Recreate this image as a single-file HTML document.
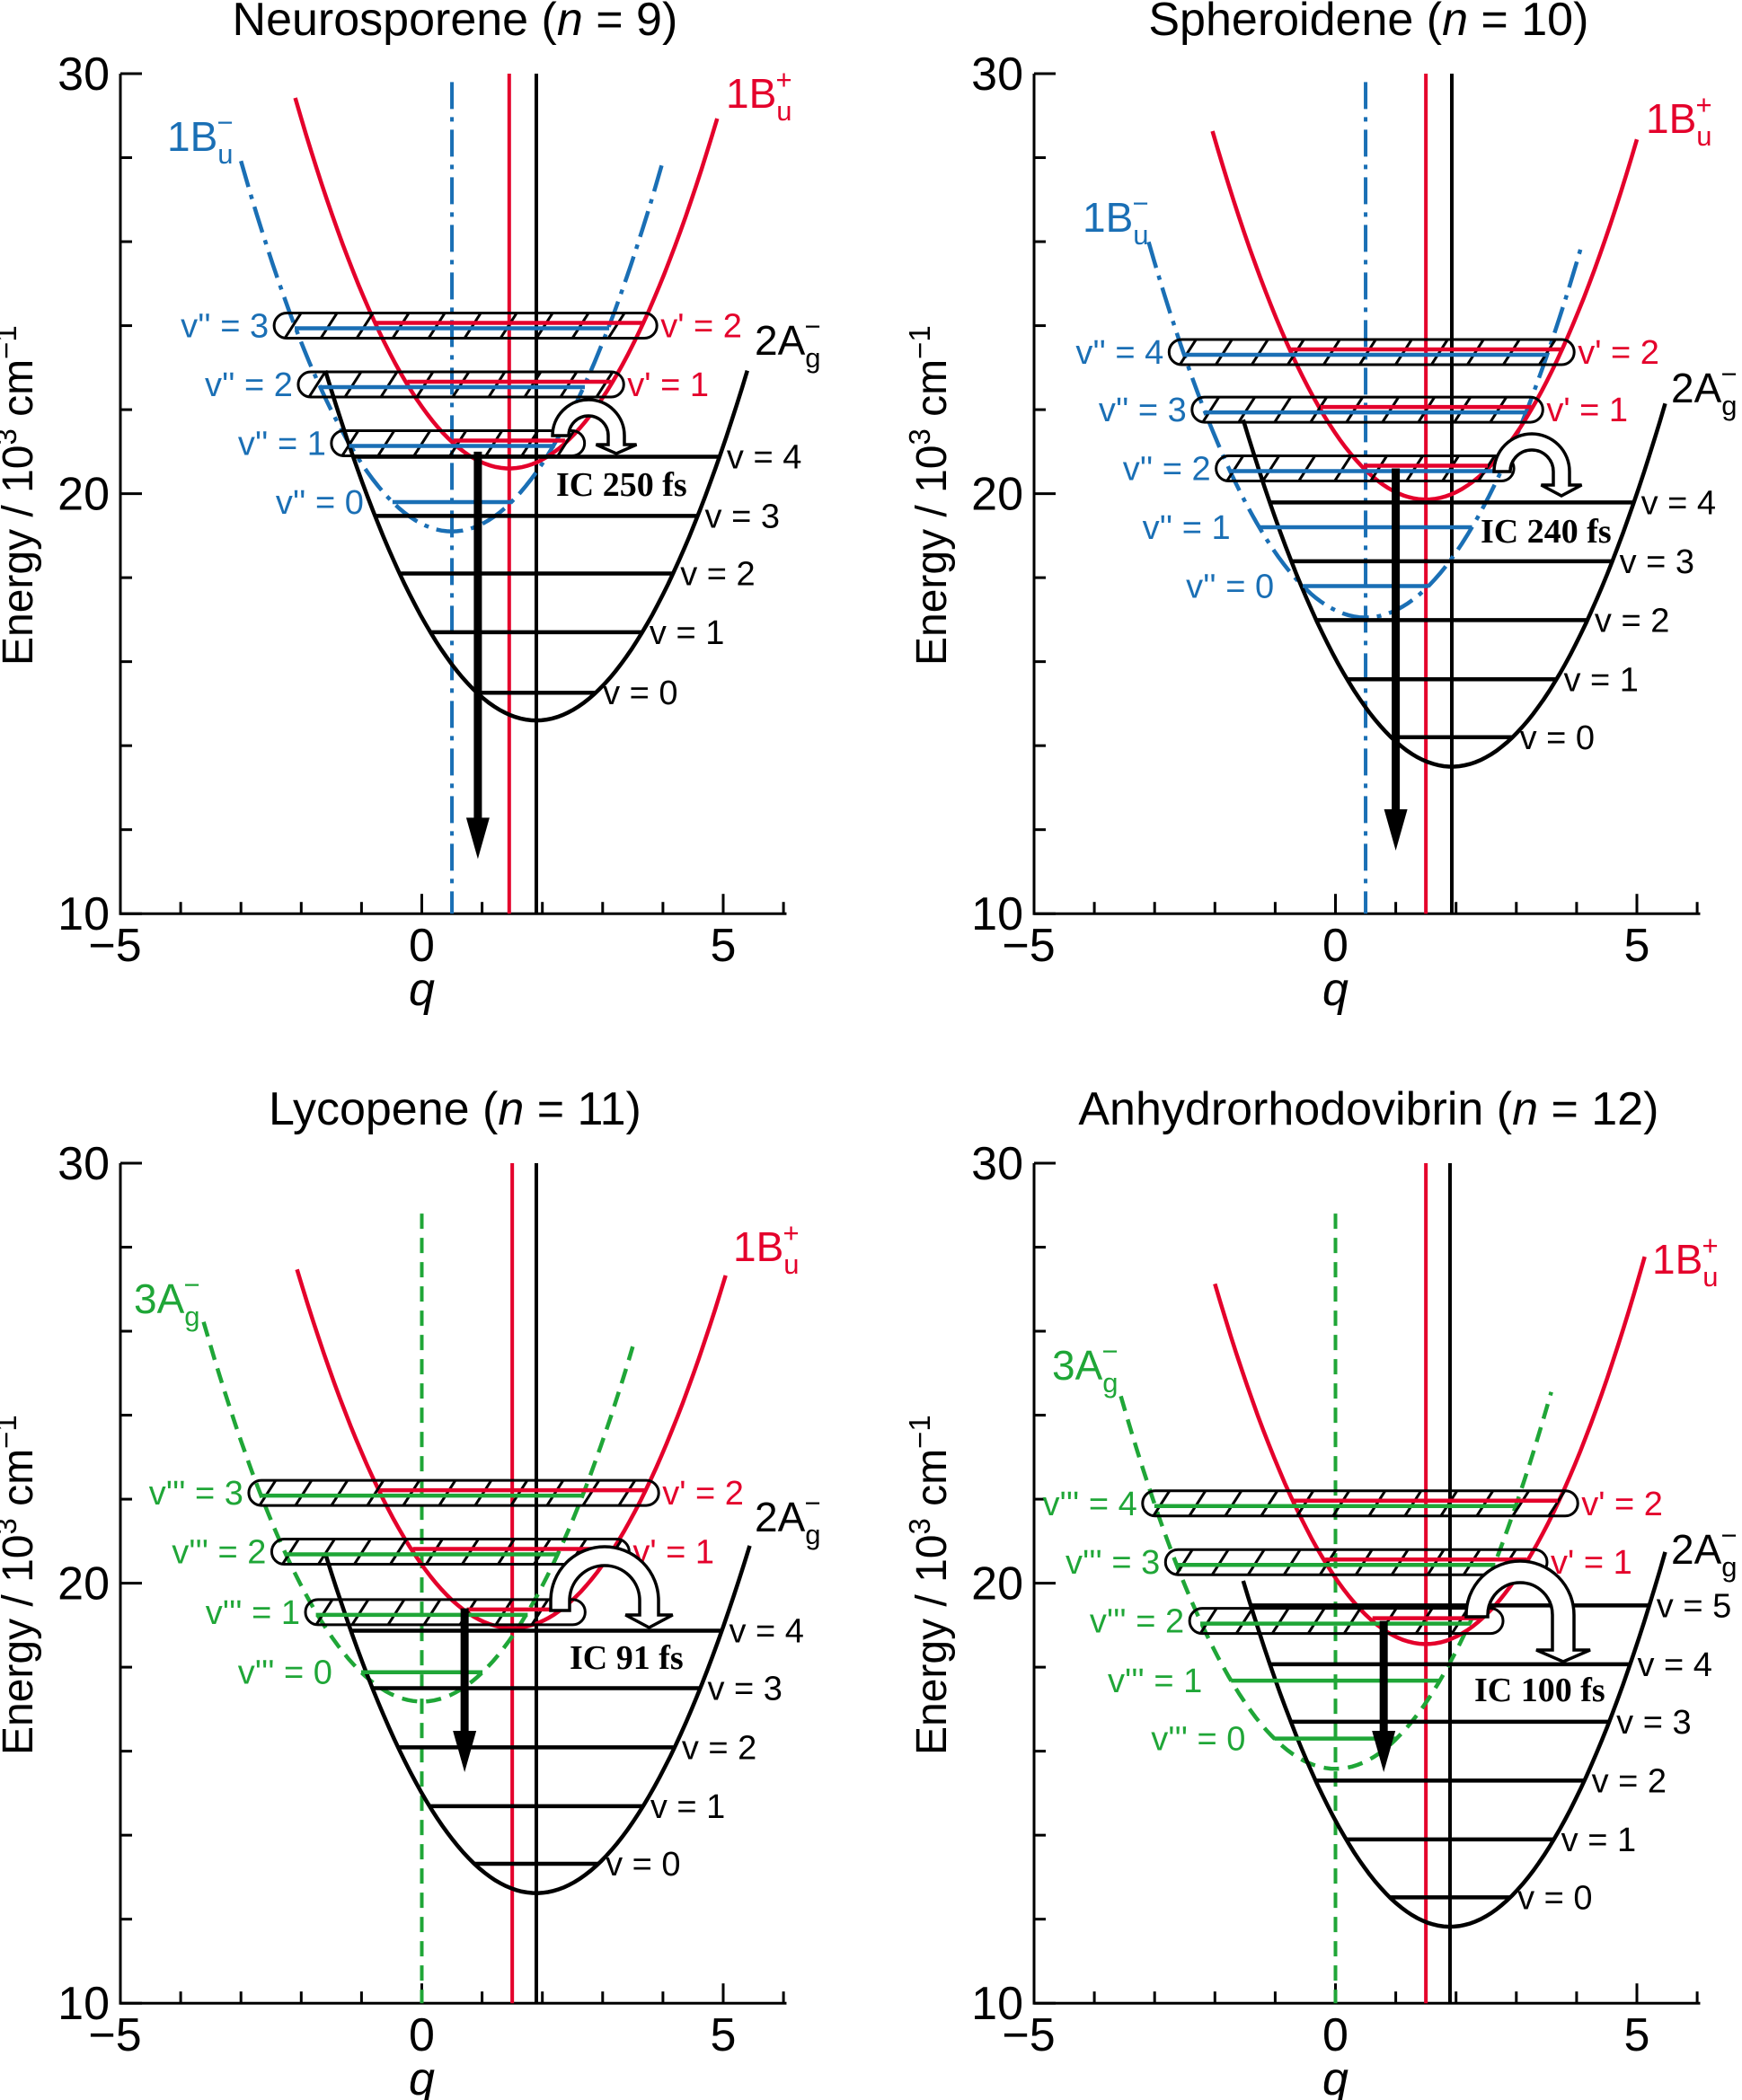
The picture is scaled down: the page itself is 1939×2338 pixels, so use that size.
<!DOCTYPE html>
<html><head><meta charset="utf-8"><style>
html,body{margin:0;padding:0;background:#fff;}
svg{display:block;font-family:"Liberation Sans",sans-serif;}
</style></head><body>
<svg id="chart" width="1939" height="2338" viewBox="0 0 1939 2338" xmlns="http://www.w3.org/2000/svg"></svg>
<script>
// ---- data (energies in 10^3 cm^-1, q dimensionless) ----
// curve arrays: [qMin, eMin, curvature, qStart, qEnd]
const neuroGround = [1.9, 14.6, 0.68, -1.6, 5.4];
const neuroGroundLevels = [15.26, 16.70, 18.10, 19.47, 20.88];
const neuroBu = [1.45, 20.6, 0.70, -2.1, 4.9];
const neuroLower = [0.5, 19.1, 0.72, -3.0, 4.0];
const neuroLowerLevels = [19.8, 21.2, 22.6, 24.0];
const neuroBands = [[-1.5, 2.7], [-2.05, 3.35], [-2.45, 3.9]];
const neuroArrow = [0.93, 21.0, 11.3];

const spherGround = [1.93, 13.5, 0.69, -1.53, 5.47];
const spherGroundLevels = [14.2, 15.58, 16.99, 18.39, 19.79];
const spherBu = [1.5, 19.86, 0.70, -2.04, 5.0];
const spherLower = [0.5, 17.05, 0.69, -3.1, 4.07];
const spherLowerLevels = [17.8, 19.2, 20.6, 22.0, 23.37];
const spherBands = [[-1.98, 2.96], [-2.38, 3.44], [-2.76, 3.96]];
const spherArrow = [1.0, 20.6, 11.5];

const lycoGround = [1.9, 12.62, 0.66, -1.6, 5.44];
const lycoGroundLevels = [13.32, 14.69, 16.09, 17.5, 18.87];
const lycoBu = [1.5, 18.93, 0.67, -2.07, 5.04];
const lycoLower = [0, 17.18, 0.69, -3.62, 3.5];
const lycoLowerLevels = [17.88, 19.31, 20.75, 22.15];
const lycoBands = [[-1.93, 2.71], [-2.49, 3.44], [-2.87, 3.93]];
const lycoArrow = [0.71, 19.4, 15.5];

const anhyGround = [1.9, 11.82, 0.70, -1.53, 5.47];
const anhyGroundLevels = [12.52, 13.9, 15.3, 16.7, 18.07, 19.47];
const anhyBu = [1.5, 18.55, 0.70, -2.0, 5.13];
const anhyLower = [0, 15.58, 0.70, -3.56, 3.58];
const anhyLowerLevels = [16.3, 17.68, 19.1, 20.5, 21.9];
const anhyBands = [[-2.42, 2.78], [-2.82, 3.51], [-3.2, 4.02]];
const anhyArrow = [0.8, 19.1, 15.5];

const yTickLabels = ["10", "20", "30"];
const xTickLabels = ["\u22125", "0", "5"];

const NS = "http://www.w3.org/2000/svg";
const svg = document.getElementById("chart");
const BLUE = "#1a6fb5", RED = "#e4002b", GREEN = "#1fa637";

function el(tag, attrs, parent) {
  const e = document.createElementNS(NS, tag);
  for (const k in attrs) e.setAttribute(k, attrs[k]);
  (parent || svg).appendChild(e);
  return e;
}

const panels = [
  {ox:134, oy:82, title:"Neurosporene", n:"9", ground:neuroGround, gl:neuroGroundLevels, bu:neuroBu, low:neuroLower, ll:neuroLowerLevels, bands:neuroBands, bandStart:1, arrow:neuroArrow, lowColor:BLUE, lowDash:"30 9 5 9", lowPrime:"v''", vTop:29.8, ic:[615,40,18,485,485,495,505], icText:[619,552,"IC  250 fs"], lab:[[186,168,"1B","u","\u2212"],[808,120,"1B","u","+"],[840,395,"2A","g","\u2212"]]},
  {ox:1151, oy:82, title:"Spheroidene", n:"10", ground:spherGround, gl:spherGroundLevels, bu:spherBu, low:spherLower, ll:spherLowerLevels, bands:spherBands, bandStart:2, arrow:spherArrow, lowColor:BLUE, lowDash:"30 9 5 9", lowPrime:"v''", vTop:29.8, ic:[1663,42,18,525,525,540,552], icText:[1648,604,"IC  240 fs"], lab:[[1205,258,"1B","u","\u2212"],[1832,148,"1B","u","+"],[1860,448,"2A","g","\u2212"]]},
  {ox:134, oy:1295, title:"Lycopene", n:"11", ground:lycoGround, gl:lycoGroundLevels, bu:lycoBu, low:lycoLower, ll:lycoLowerLevels, bands:lycoBands, bandStart:1, arrow:lycoArrow, lowColor:GREEN, lowDash:"17 10", lowPrime:"v'''", vTop:28.8, ic:[613,60,21,1782,1793,1798,1812], icText:[634,1858,"IC  91 fs"], lab:[[149,1462,"3A","g","\u2212"],[816,1404,"1B","u","+"],[840,1705,"2A","g","\u2212"]]},
  {ox:1151, oy:1295, title:"Anhydrorhodovibrin", n:"12", ground:anhyGround, gl:anhyGroundLevels, bu:anhyBu, low:anhyLower, ll:anhyLowerLevels, bands:anhyBands, bandStart:2, arrow:anhyArrow, lowColor:GREEN, lowDash:"17 10", lowPrime:"v'''", vTop:28.8, ic:[1632,60,24,1798,1800,1837,1850], icText:[1641,1894,"IC  100 fs"], lab:[[1171,1536,"3A","g","\u2212"],[1839,1418,"1B","u","+"],[1860,1741,"2A","g","\u2212"]]}
];

const QU = 67.1, EU = 46.76;

function drawPanel(p, idx) {
  const X = q => p.ox + (q + 5) * QU;
  const Y = e => p.oy + (30 - e) * EU;
  const g = el("g", {});
  
  

  // title
  const t = el("text", {x: X(0.55), y: p.oy - 43, "text-anchor": "middle", "font-size": 52}, g);
  
  
  t.innerHTML = p.title + ' (<tspan font-style="italic">n</tspan> = ' + p.n + ')';

  // axes
  const ax = el("path", {d: `M${X(-5)},${Y(30)} L${X(-5)},${Y(10)} L${X(6.05)},${Y(10)}`, fill: "none", stroke: "#000", "stroke-width": 3}, g);
  
  
  for (let e = 10; e <= 30; e += 2) {
    const len = (e % 10 === 0) ? 24 : 13;
    const tk = el("line", {x1: X(-5), x2: X(-5) + len, y1: Y(e), y2: Y(e), stroke: "#000", "stroke-width": 3}, g);
    
    
  }
  for (let q = -4; q <= 6; q++) {
    const len = (q % 5 === 0) ? 22 : 13;
    const tk = el("line", {x1: X(q), x2: X(q), y1: Y(10), y2: Y(10) - len, stroke: "#000", "stroke-width": 3}, g);
    
    
  }
  yTickLabels.forEach((s, i) => {
    const tl = el("text", {x: X(-5) - 12, y: Y(10 + i * 10) + 18, "text-anchor": "end", "font-size": 52}, g);
    
    
    tl.textContent = s;
  });
  xTickLabels.forEach((s, i) => {
    const tl = el("text", {x: X(-5 + i * 5) - (i === 0 ? 6 : 0), y: Y(10) + 53, "text-anchor": "middle", "font-size": 52}, g);
    
    
    tl.textContent = s;
  });
  const xt = el("text", {x: X(0), y: Y(10) + 102, "text-anchor": "middle", "font-size": 52, "font-style": "italic"}, g);
  
  
  xt.textContent = "q";
  const yc = (Y(30) + Y(10)) / 2 + 2, yx = p.ox - 98;
  const yt = el("text", {x: yx, y: yc, "text-anchor": "middle", "font-size": 48, transform: `rotate(-90 ${yx} ${yc})`}, g);
  
  
  yt.innerHTML = 'Energy / 10<tspan dy="-18" font-size="33">3</tspan><tspan dy="18"> cm</tspan><tspan dy="-18" font-size="33">\u22121</tspan>';

  // vertical lines
  const vl = el("line", {x1: X(p.low[0]), x2: X(p.low[0]), y1: Y(p.vTop), y2: Y(10), stroke: p.lowColor, "stroke-width": 4, "stroke-dasharray": p.lowDash}, g);
  
  
  const vr = el("line", {x1: X(p.bu[0]), x2: X(p.bu[0]), y1: Y(30), y2: Y(10), stroke: RED, "stroke-width": 4}, g);
  
  
  const vb = el("line", {x1: X(p.ground[0]), x2: X(p.ground[0]), y1: Y(30), y2: Y(10), stroke: "#000", "stroke-width": 4}, g);
  
  

  // parabolas
  function parab(c, color, dash, name) {
    let d = "";
    for (let i = 0; i <= 80; i++) {
      const q = c[3] + (c[4] - c[3]) * i / 80;
      const e = c[1] + c[2] * (q - c[0]) * (q - c[0]);
      d += (i ? "L" : "M") + X(q).toFixed(1) + "," + Y(e).toFixed(1);
    }
    const pa = el("path", {d: d, fill: "none", stroke: color, "stroke-width": 4.5, "stroke-dasharray": dash || "none"}, g);
    
    
  }
  parab(p.low, p.lowColor, p.lowDash, 'lower-state-curve');
  parab(p.bu, RED, null, 'bu-plus-curve');
  parab(p.ground, "#000", null, 'ground-state-curve');

  function half(c, e) { return Math.sqrt(Math.max(0, (e - c[1]) / c[2])); }

  // ground levels
  p.gl.forEach((e, i) => {
    const h = half(p.ground, e);
    const ln = el("line", {x1: X(p.ground[0] - h), x2: X(p.ground[0] + h), y1: Y(e), y2: Y(e), stroke: "#000", "stroke-width": 4.5}, g);
    
    
    const lt = el("text", {x: X(p.ground[0] + h) + 8, y: Y(e) + 13, "font-size": 38}, g);
    
    
    lt.textContent = "v = " + i;
  });

  // bands (hatched)
  p.bands.forEach((b, j) => {
    const e = p.ll[p.bandStart + j];
    const x1 = X(b[0]), x2 = X(b[1]), yy = Y(e), hh = 28;
    const bg = el("g", {}, g);
    
    
    el("rect", {x: x1, y: yy - hh / 2, width: x2 - x1, height: hh, rx: 14, fill: "none", stroke: "#000", "stroke-width": 3}, bg);
    for (let x = x1 + 12; x + 18 < x2 - 4; x += 40) {
      el("line", {x1: x, y1: yy + hh / 2, x2: x + 18, y2: yy - hh / 2, stroke: "#000", "stroke-width": 3}, bg);
    }
  });

  // lower-state levels
  p.ll.forEach((e, i) => {
    const h = half(p.low, e);
    const inBand = i >= p.bandStart;
    const ln = el("line", {x1: X(p.low[0] - h), x2: X(p.low[0] + h), y1: Y(e) + (inBand ? 3 : 0), y2: Y(e) + (inBand ? 3 : 0), stroke: p.lowColor, "stroke-width": 4.5}, g);
    
    
    const lx = inBand ? X(p.bands[i - p.bandStart][0]) - 6 : X(p.low[0] - h) - 32;
    const lt = el("text", {x: lx, y: Y(e) + 13, "font-size": 38, "text-anchor": "end", fill: p.lowColor}, g);
    
    
    lt.textContent = p.lowPrime + " = " + i;
    if (inBand) {
      const j = i - p.bandStart;
      const hr = half(p.bu, e);
      const rl = el("line", {x1: X(p.bu[0] - hr), x2: X(p.bu[0] + hr), y1: Y(e) - 3, y2: Y(e) - 3, stroke: RED, "stroke-width": 4.5}, g);
      
      
      if (j > 0) {
        const rt = el("text", {x: X(p.bands[j][1]) + 4, y: Y(e) + 13, "font-size": 38, fill: RED}, g);
        
        
        rt.textContent = "v' = " + j;
      }
    }
  });

  // emission arrow
  const a = p.arrow;
  const al = el("line", {x1: X(a[0]), x2: X(a[0]), y1: Y(a[1]), y2: Y(a[2]) - 40, stroke: "#000", "stroke-width": 9}, g);
  
  
  const ah = el("path", {d: `M${X(a[0]) - 13},${Y(a[2]) - 46} L${X(a[0]) + 13},${Y(a[2]) - 46} L${X(a[0])},${Y(a[2])} Z`, fill: "#000"}, g);
  
  

  // IC curved arrow [x0,R,t,yc,yb,yh,ytip]
  const [x0, R, tt, cy, yb, yh, ytip] = p.ic;
  const xr = x0 + 2 * R, w = tt * 0.75;
  const d = `M${x0},${yb} L${x0},${cy} A${R},${R} 0 0 1 ${xr},${cy} L${xr},${yh} L${xr + w},${yh} L${xr - tt / 2},${ytip} L${xr - tt - w},${yh} L${xr - tt},${yh} L${xr - tt},${cy} A${R - tt},${R - tt} 0 0 0 ${x0 + tt},${cy} L${x0 + tt},${yb} Z`;
  const ic = el("path", {d: d, fill: "#fff", stroke: "#000", "stroke-width": 3.5, "stroke-linejoin": "miter"}, g);
  
  
  const it = el("text", {x: p.icText[0], y: p.icText[1], "font-size": 38, "font-weight": "bold", "font-family": "Liberation Serif, serif", "xml:space": "preserve"}, g);
  
  
  it.textContent = p.icText[2];

  // state labels
  const cols = [p.lowColor, RED, "#000"];
  p.lab.forEach((L, k) => {
    const s = el("text", {x: L[0], y: L[1], "font-size": 46, fill: cols[k]}, g);
    
    
    s.innerHTML = L[2] + '<tspan font-size="31" dy="14">' + L[3] + '</tspan><tspan font-size="31" dx="-18" dy="-35">' + L[4] + '</tspan>';
  });
}
panels.forEach(drawPanel);
</script>
</body></html>
